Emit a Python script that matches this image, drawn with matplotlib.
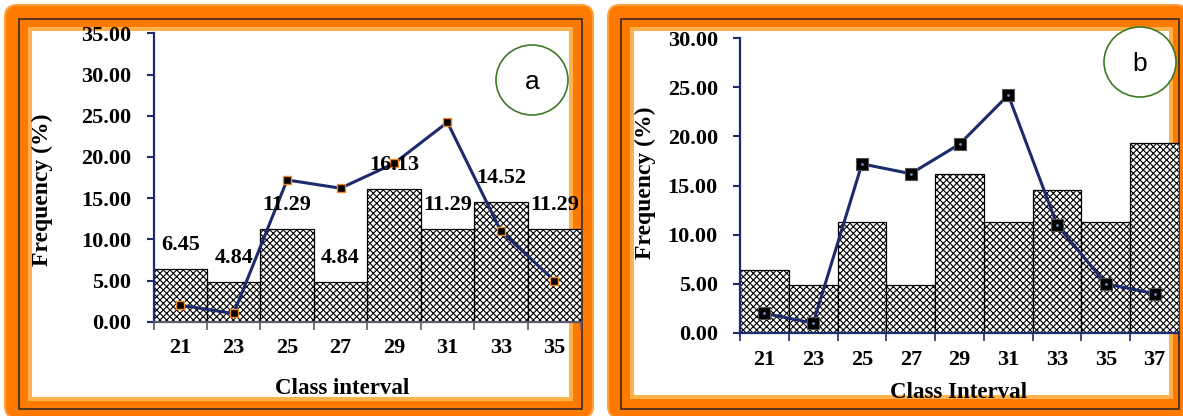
import numpy as np
import matplotlib
matplotlib.use('Agg')
import matplotlib.pyplot as plt
from matplotlib.patches import FancyBboxPatch, Rectangle, Ellipse

# Data
classes_a = ['21', '23', '25', '27', '29', '31', '33', '35']
freq_a = [6.45, 4.84, 11.29, 4.84, 16.13, 11.29, 14.52, 11.29]
line_a = [2.0, 1.0, 17.2, 16.2, 19.2, 24.2, 11.0, 5.0]

classes_b = ['21', '23', '25', '27', '29', '31', '33', '35', '37']
freq_b = [6.45, 4.84, 11.29, 4.84, 16.13, 11.29, 14.52, 11.29, 19.35]
line_b = [2.0, 1.0, 17.2, 16.2, 19.2, 24.2, 11.0, 5.0, 4.0]

W, H = 1183, 416
NAVY = '#1c2b6b'
ORANGE = '#ff7a00'

plt.rcParams['font.family'] = 'Liberation Serif'
plt.rcParams['font.weight'] = 'bold'
plt.rcParams['hatch.linewidth'] = 0.8

fig = plt.figure(figsize=(W / 100, H / 100), dpi=100)


def disp(x0, y0, x1, y1):
    # pixel box with top-left origin -> display coords (x, y, w, h)
    return x0, H - y1, x1 - x0, y1 - y0


def frame(outer, line, white):
    x, y, w, h = disp(*outer)
    fig.add_artist(FancyBboxPatch((x, y), w, h, boxstyle='round,pad=0,rounding_size=12',
                                  fc=ORANGE, ec='#ffa040', lw=1.5,
                                  transform=None, zorder=-10))
    x, y, w, h = disp(white[0] - 4, white[1] - 4, white[2] + 4, white[3] + 4)
    fig.add_artist(Rectangle((x, y), w, h, fc='#ffb24a', ec='none',
                             transform=None, zorder=-9))
    x, y, w, h = disp(*line)
    fig.add_artist(Rectangle((x, y), w, h, fc='none', ec='#3a2a20', lw=1.2,
                             transform=None, zorder=-8))
    x, y, w, h = disp(*white)
    fig.add_artist(Rectangle((x, y), w, h, fc='white', ec='none',
                             transform=None, zorder=-7))


frame((5, 5, 593, 418), (19, 19, 582, 409), (32, 31, 569, 397))
frame((608, 5, 1188, 418), (621, 19, 1179, 409), (634, 31, 1169, 395))


def panel(box, classes, freq, line, ymax, xcol, marker_kw, show_labels):
    left, top, right, bottom = box
    ax = fig.add_axes([left / W, 1 - bottom / H, (right - left) / W, (bottom - top) / H])
    ax.set_facecolor('none')
    n = len(classes)
    x = np.arange(n)
    bars = ax.bar(x, freq, width=1.0, color='white', edgecolor='black',
                  linewidth=0.9, hatch='xxxxx', zorder=2)
    ax.plot(x, line, color=NAVY, linewidth=2.2, zorder=3, **marker_kw)
    if show_labels:
        ax.bar_label(bars, labels=['%.2f' % v for v in freq], padding=10,
                     fontsize=16, zorder=4)
    ax.set_xlim(-0.5, n - 0.5)
    ax.set_ylim(0, ymax)
    ax.set_yticks(np.arange(0, ymax + 0.1, 5))
    ax.set_yticklabels(['%.2f' % t for t in np.arange(0, ymax + 0.1, 5)])
    ax.set_xticks(x)
    ax.set_xticklabels(classes)
    ax.set_xticks(np.arange(n + 1) - 0.5, minor=True)
    ax.tick_params(axis='x', which='major', length=0, pad=12, labelsize=16)
    ax.tick_params(axis='x', which='minor', length=6, width=1.2, color=xcol)
    ax.tick_params(axis='y', length=5, width=1.5, color=NAVY, pad=11, labelsize=16)
    for s in ['top', 'right']:
        ax.spines[s].set_visible(False)
    ax.spines['left'].set_color(NAVY)
    ax.spines['left'].set_linewidth(1.6)
    ax.spines['bottom'].set_color(xcol)
    ax.spines['bottom'].set_linewidth(1.6)
    return ax


ax_a = panel((153.5, 33.3, 581, 321.7), classes_a, freq_a, line_a, 35, '#5a5a6a',
             dict(marker='s', markersize=5.5, markerfacecolor='black',
                  markeredgecolor='#f08a20', markeredgewidth=1), True)
ax_b = panel((740, 38, 1179, 333), classes_b, freq_b, line_b, 30, NAVY,
             dict(marker='s', markersize=9, markerfacecolor='black',
                  markeredgecolor='#505050', markeredgewidth=0.8), False)
ax_b.plot(np.arange(len(line_b)), line_b, linestyle='none', marker='.',
          markersize=2, color='#7090c0', zorder=4)

# axis titles
fig.text(42 / W, 1 - 190 / H, 'Frequency (%)', rotation=90, ha='center', va='center', fontsize=17)
fig.text(342 / W, 1 - 388 / H, 'Class interval', ha='center', va='center', fontsize=16.5)
fig.text(645 / W, 1 - 183 / H, 'Frequency (%)', rotation=90, ha='center', va='center', fontsize=17)
fig.text(959 / W, 1 - 393 / H, 'Class Interval', ha='center', va='center', fontsize=16.5)

# circled panel letters
for cx, cy, letter in [(532, 80, 'a'), (1140, 62, 'b')]:
    fig.add_artist(Ellipse((cx, H - cy), 72, 70, fc='white', ec='#3c7a28', lw=1.2,
                           transform=None, zorder=5))
    fig.text(cx / W, 1 - (cy + 2) / H, letter, ha='center', va='center',
             fontsize=19, family='Liberation Sans', fontweight='normal', zorder=6)

fig.savefig('out.png', dpi=100)
